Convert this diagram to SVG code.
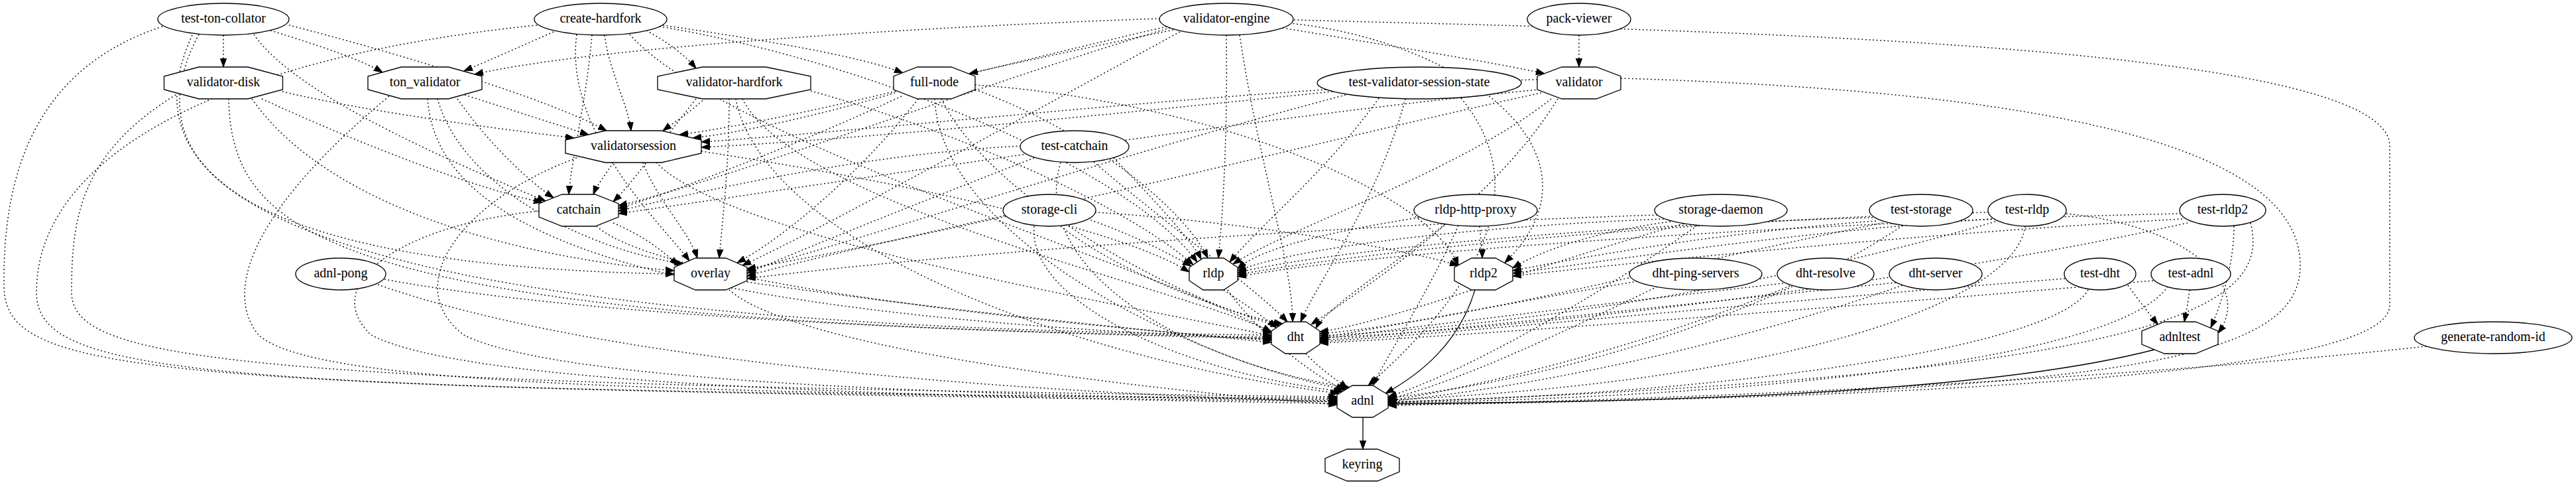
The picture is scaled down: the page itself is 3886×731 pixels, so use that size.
<svg xmlns="http://www.w3.org/2000/svg" width="3886" height="731" viewBox="0 0 3886 731">
<style>
.n ellipse,.n polygon{fill:#fff;stroke:#000;stroke-width:1.33}
text{font-family:"Liberation Serif","Times New Roman",serif;font-size:20px;text-anchor:middle;fill:#000}
.d{fill:none;stroke:#000;stroke-width:1.5;stroke-dasharray:1.8 3.8;marker-end:url(#ah)}
.s{fill:none;stroke:#000;stroke-width:1.33;marker-end:url(#ah)}
</style>
<defs>
<marker id="ah" viewBox="0 0 13 10" refX="13" refY="5" markerWidth="13" markerHeight="10" markerUnits="userSpaceOnUse" orient="auto"><path d="M0,0.3 L13,5 L0,9.7 z" fill="#000" stroke="#000" stroke-width="1"/></marker>
</defs>
<rect width="3886" height="731" fill="#fff"/>
<g id="edges">
<path class="d" d="M337,53 C337,70 337,85 337,101"/>
<path class="d" d="M408,46 C480,68 545,90 577,109"/>
<path class="d" d="M436,38 C600,80 830,150 915,197"/>
<path class="d" d="M383,52 C450,150 720,260 823,303"/>
<path class="d" d="M300,52 C220,200 260,400 1017,413"/>
<path class="d" d="M290,53 C200,250 300,490 1918,505"/>
<path class="d" d="M245,40 C30,110 5,300 6,430 C7,565 200,585 2017,605"/>
<path class="d" d="M975,46 C1010,65 1035,85 1050,103"/>
<path class="d" d="M835,48 C790,68 740,90 700,107"/>
<path class="d" d="M1000,38 C1150,60 1300,85 1362,110"/>
<path class="d" d="M912,53 C920,110 948,160 952,197"/>
<path class="d" d="M893,53 C885,150 862,240 858,293"/>
<path class="d" d="M870,52 C850,200 1000,340 1040,393"/>
<path class="d" d="M995,40 C1300,90 1700,250 1806,395"/>
<path class="d" d="M950,52 C1100,220 1800,420 1918,503"/>
<path class="d" d="M810,38 C300,90 55,250 55,440 C55,568 300,590 2017,600"/>
<path class="d" d="M1750,28 C1400,40 900,70 716,112"/>
<path class="d" d="M1770,45 C1650,70 1530,95 1462,111"/>
<path class="d" d="M1935,42 C2100,70 2260,95 2330,111"/>
<path class="d" d="M1760,40 C1500,100 1200,180 1025,203"/>
<path class="d" d="M1765,42 C1500,120 1100,270 933,310"/>
<path class="d" d="M1780,48 C1500,200 1250,340 1120,400"/>
<path class="d" d="M1850,53 C1852,200 1845,320 1838,389"/>
<path class="d" d="M1945,35 C2200,60 2440,230 2270,396"/>
<path class="d" d="M1870,53 C1900,250 1950,400 1950,485"/>
<path class="d" d="M1952,30 C2500,45 3605,60 3605,220 L3605,460 C3605,565 2900,600 2094,610"/>
<path class="d" d="M2382,53 C2382,70 2382,85 2382,101"/>
<path class="d" d="M426,138 C560,170 760,195 866,208"/>
<path class="d" d="M395,149 C550,220 720,285 818,305"/>
<path class="d" d="M380,149 C500,320 800,390 1017,408"/>
<path class="d" d="M345,149 C350,360 500,488 1918,508"/>
<path class="d" d="M270,140 C120,230 108,330 108,440 C108,545 350,578 2017,598"/>
<path class="d" d="M701,143 C770,165 840,188 888,203"/>
<path class="d" d="M690,149 C740,220 800,275 835,298"/>
<path class="d" d="M660,149 C700,290 900,380 1030,397"/>
<path class="d" d="M645,149 C660,360 1000,475 1918,511"/>
<path class="d" d="M587,145 C400,300 330,430 390,505 C470,575 900,592 2017,602"/>
<path class="d" d="M1064,148 C1040,170 1012,188 1000,197"/>
<path class="d" d="M1050,149 C990,225 950,280 925,304"/>
<path class="d" d="M1100,149 C1100,250 1090,330 1085,389"/>
<path class="d" d="M1120,149 C1200,310 1800,440 1918,500"/>
<path class="d" d="M1110,149 C1150,360 1600,540 2020,593"/>
<path class="d" d="M1223,137 C1450,200 1700,310 1800,399"/>
<path class="d" d="M1350,140 C1250,170 1120,200 1045,208"/>
<path class="d" d="M1360,145 C1200,220 1000,295 933,314"/>
<path class="d" d="M1385,149 C1300,260 1180,360 1112,396"/>
<path class="d" d="M1471,135 C1650,200 1790,320 1822,389"/>
<path class="d" d="M1471,128 C1800,150 2150,280 2200,400"/>
<path class="d" d="M1420,149 C1500,310 1800,460 1930,491"/>
<path class="d" d="M1410,149 C1420,360 1800,545 2030,587"/>
<path class="d" d="M2010,138 C1700,170 1300,210 1058,222"/>
<path class="d" d="M2030,143 C1700,230 1300,360 1127,408"/>
<path class="d" d="M2080,148 C2000,260 1900,340 1855,395"/>
<path class="d" d="M2120,149 C2080,300 1990,420 1962,485"/>
<path class="d" d="M2204,148 C2330,300 2200,460 2064,581"/>
<path class="d" d="M2319,120 C1900,130 1400,190 1058,214"/>
<path class="d" d="M2322,135 C1900,175 1300,270 933,322"/>
<path class="d" d="M2325,140 C2000,210 1500,340 1127,405"/>
<path class="d" d="M2340,149 C2200,260 1950,340 1860,398"/>
<path class="d" d="M2350,149 C2250,310 2050,440 1978,489"/>
<path class="d" d="M2445,118 C3000,135 3470,200 3470,400 C3470,545 3200,592 2094,611"/>
<path class="d" d="M925,245 C912,265 900,280 895,293"/>
<path class="d" d="M970,245 C990,300 1040,350 1052,389"/>
<path class="d" d="M1058,228 C1400,280 1700,350 1794,410"/>
<path class="d" d="M990,245 C1100,360 1700,460 1918,506"/>
<path class="d" d="M870,238 C700,300 600,430 700,505 C850,580 1500,596 2017,604"/>
<path class="d" d="M1540,220 C1300,232 1050,290 933,318"/>
<path class="d" d="M1560,238 C1400,300 1200,380 1127,412"/>
<path class="d" d="M1650,244 C1750,330 1900,440 1942,485"/>
<path class="d" d="M1600,245 C1550,410 1800,550 2036,584"/>
<path class="d" d="M1680,238 C1740,300 1800,365 1812,391"/>
<path class="d" d="M925,336 C970,355 1000,378 1023,400"/>
<path class="d" d="M900,341 C1000,430 1600,490 1918,513"/>
<path class="d" d="M813,318 C600,340 480,430 560,505 C700,578 1300,597 2017,608"/>
<path class="d" d="M1127,425 C1400,465 1700,495 1918,516"/>
<path class="d" d="M1100,437 C1200,525 1700,585 2017,610"/>
<path class="d" d="M1515,325 C1400,350 1200,395 1127,416"/>
<path class="d" d="M1640,330 C1700,350 1760,380 1797,401"/>
<path class="d" d="M1652,320 C1850,332 2100,370 2200,400"/>
<path class="d" d="M1600,341 C1700,420 1880,480 1935,488"/>
<path class="d" d="M1560,341 C1550,460 1800,565 2025,590"/>
<path class="d" d="M2232,341 C2234,360 2236,375 2236,389"/>
<path class="d" d="M2140,328 C2000,350 1900,375 1867,405"/>
<path class="d" d="M2180,338 C2100,400 2000,465 1985,495"/>
<path class="d" d="M2200,340 C2150,450 2090,540 2071,581"/>
<path class="d" d="M2500,324 C2000,340 1400,385 1127,420"/>
<path class="d" d="M2510,330 C2200,342 1950,375 1867,408"/>
<path class="d" d="M2520,334 C2400,350 2320,380 2282,404"/>
<path class="d" d="M2540,337 C2300,405 2100,485 1991,500"/>
<path class="d" d="M2560,340 C2400,455 2200,565 2094,598"/>
<path class="d" d="M2825,328 C2400,340 2000,378 1867,411"/>
<path class="d" d="M2830,333 C2600,350 2400,385 2282,408"/>
<path class="d" d="M2840,336 C2500,405 2200,485 1991,503"/>
<path class="d" d="M2870,340 C2700,455 2400,565 2094,600"/>
<path class="d" d="M3000,320 C2600,330 2100,372 1867,414"/>
<path class="d" d="M3005,330 C2700,350 2450,390 2282,412"/>
<path class="d" d="M3010,334 C2700,425 2300,492 1991,506"/>
<path class="d" d="M3055,341 C3040,455 2700,575 2094,603"/>
<path class="d" d="M3117,322 C3300,340 3400,430 3346,502"/>
<path class="d" d="M3290,322 C2800,332 2100,375 1867,417"/>
<path class="d" d="M3292,330 C2900,352 2500,392 2282,416"/>
<path class="d" d="M3300,336 C2900,425 2300,497 1991,509"/>
<path class="d" d="M3395,336 C3425,455 3300,565 2094,606"/>
<path class="d" d="M3370,341 C3370,400 3350,460 3335,494"/>
<path class="d" d="M580,421 C900,480 1500,502 1918,510"/>
<path class="d" d="M570,429 C900,545 1500,590 2017,606"/>
<path class="d" d="M1846,437 C1880,460 1910,480 1925,494"/>
<path class="d" d="M1852,437 C1900,505 1980,565 2028,588"/>
<path class="s" d="M2225,437 C2200,520 2140,565 2090,593"/>
<path class="d" d="M2470,424 C2300,452 2100,492 1991,509"/>
<path class="d" d="M2500,432 C2350,505 2200,575 2094,602"/>
<path class="d" d="M2690,427 C2400,460 2100,497 1991,511"/>
<path class="d" d="M2700,431 C2500,515 2250,580 2094,604"/>
<path class="d" d="M2860,426 C2500,462 2150,502 1991,513"/>
<path class="d" d="M2870,430 C2600,525 2300,585 2094,605"/>
<path class="d" d="M3115,420 C2700,452 2200,502 1991,515"/>
<path class="d" d="M3210,430 C3228,455 3244,475 3255,489"/>
<path class="d" d="M3150,437 C3100,525 2600,594 2094,606"/>
<path class="d" d="M3248,423 C2800,462 2200,507 1991,517"/>
<path class="d" d="M3303,437 C3301,455 3298,470 3295,485"/>
<path class="d" d="M3270,432 C3200,535 2700,598 2094,607"/>
<path class="d" d="M1970,533 C1990,555 2015,572 2033,585"/>
<path class="s" d="M3250,527 C3000,592 2500,607 2094,608"/>
<path class="d" d="M3660,522 C3200,572 2500,606 2094,609"/>
<path class="s" d="M2056,629 C2056,645 2056,660 2056,677"/>
</g>
<g id="test-ton-collator" class="n"><ellipse cx="337" cy="29" rx="99" ry="24"/><text x="337" y="34">test-ton-collator</text></g>
<g id="create-hardfork" class="n"><ellipse cx="906" cy="29" rx="100" ry="24"/><text x="906" y="34">create-hardfork</text></g>
<g id="validator-engine" class="n"><ellipse cx="1850" cy="29" rx="101" ry="24"/><text x="1850" y="34">validator-engine</text></g>
<g id="pack-viewer" class="n"><ellipse cx="2382" cy="29" rx="78" ry="24"/><text x="2382" y="34">pack-viewer</text></g>
<g id="validator-disk" class="n"><polygon points="300,101 374,101 426.5,115 426.5,135 374,149 300,149 247.5,135 247.5,115"/><text x="337" y="130">validator-disk</text></g>
<g id="ton_validator" class="n"><polygon points="605.4,101 676.6,101 727,115 727,135 676.6,149 605.4,149 555,135 555,115"/><text x="641" y="130">ton_validator</text></g>
<g id="validator-hardfork" class="n"><polygon points="1059.7,101 1155.3,101 1223,115 1223,135 1155.3,149 1059.7,149 992,135 992,115"/><text x="1107.5" y="130">validator-hardfork</text></g>
<g id="full-node" class="n"><polygon points="1384,101 1435,101 1471,115 1471,135 1435,149 1384,149 1348,135 1348,115"/><text x="1409.5" y="130">full-node</text></g>
<g id="test-validator-session-state" class="n"><ellipse cx="2141" cy="125" rx="154" ry="24"/><text x="2141" y="130">test-validator-session-state</text></g>
<g id="validator" class="n"><polygon points="2356,101 2408,101 2445,115 2445,135 2408,149 2356,149 2319,135 2319,115"/><text x="2382" y="130">validator</text></g>
<g id="validatorsession" class="n"><polygon points="913,197 998,197 1058,211 1058,231 998,245 913,245 853,231 853,211"/><text x="955.5" y="226">validatorsession</text></g>
<g id="test-catchain" class="n"><ellipse cx="1621" cy="221" rx="82" ry="24"/><text x="1621" y="226">test-catchain</text></g>
<g id="catchain" class="n"><polygon points="848,293 898,293 933,307 933,327 898,341 848,341 813,327 813,307"/><text x="873" y="322">catchain</text></g>
<g id="storage-cli" class="n"><ellipse cx="1583" cy="317" rx="70" ry="24"/><text x="1583" y="322">storage-cli</text></g>
<g id="rldp-http-proxy" class="n"><ellipse cx="2226" cy="317" rx="93" ry="24"/><text x="2226" y="322">rldp-http-proxy</text></g>
<g id="storage-daemon" class="n"><ellipse cx="2596" cy="317" rx="100" ry="24"/><text x="2596" y="322">storage-daemon</text></g>
<g id="test-storage" class="n"><ellipse cx="2898" cy="317" rx="78" ry="24"/><text x="2898" y="322">test-storage</text></g>
<g id="test-rldp" class="n"><ellipse cx="3058" cy="317" rx="59" ry="24"/><text x="3058" y="322">test-rldp</text></g>
<g id="test-rldp2" class="n"><ellipse cx="3353" cy="317" rx="65" ry="24"/><text x="3353" y="322">test-rldp2</text></g>
<g id="adnl-pong" class="n"><ellipse cx="514" cy="413" rx="68" ry="24"/><text x="514" y="418">adnl-pong</text></g>
<g id="overlay" class="n"><polygon points="1049,389 1095,389 1127,403 1127,423 1095,437 1049,437 1017,423 1017,403"/><text x="1072" y="418">overlay</text></g>
<g id="rldp" class="n"><polygon points="1815,389 1846,389 1867,403 1867,423 1846,437 1815,437 1794,423 1794,403"/><text x="1830.5" y="418">rldp</text></g>
<g id="rldp2" class="n"><polygon points="2220,389 2256,389 2282,403 2282,423 2256,437 2220,437 2194,423 2194,403"/><text x="2238" y="418">rldp2</text></g>
<g id="dht-ping-servers" class="n"><ellipse cx="2558" cy="413" rx="100" ry="24"/><text x="2558" y="418">dht-ping-servers</text></g>
<g id="dht-resolve" class="n"><ellipse cx="2754" cy="413" rx="73" ry="24"/><text x="2754" y="418">dht-resolve</text></g>
<g id="dht-server" class="n"><ellipse cx="2920" cy="413" rx="70" ry="24"/><text x="2920" y="418">dht-server</text></g>
<g id="test-dht" class="n"><ellipse cx="3168" cy="413" rx="54" ry="24"/><text x="3168" y="418">test-dht</text></g>
<g id="test-adnl" class="n"><ellipse cx="3305" cy="413" rx="60" ry="24"/><text x="3305" y="418">test-adnl</text></g>
<g id="dht" class="n"><polygon points="1939,485 1970,485 1991,499 1991,519 1970,533 1939,533 1918,519 1918,499"/><text x="1954.5" y="514">dht</text></g>
<g id="adnltest" class="n"><polygon points="3265,485 3312,485 3346,499 3346,519 3312,533 3265,533 3231,519 3231,499"/><text x="3288.5" y="514">adnltest</text></g>
<g id="generate-random-id" class="n"><ellipse cx="3761" cy="509" rx="119" ry="24"/><text x="3761" y="514">generate-random-id</text></g>
<g id="adnl" class="n"><polygon points="2040,581 2071,581 2094,595 2094,615 2071,629 2040,629 2017,615 2017,595"/><text x="2055.5" y="610">adnl</text></g>
<g id="keyring" class="n"><polygon points="2032,677 2078,677 2111,691 2111,711 2078,725 2032,725 1999,711 1999,691"/><text x="2055" y="706">keyring</text></g>
</svg>
